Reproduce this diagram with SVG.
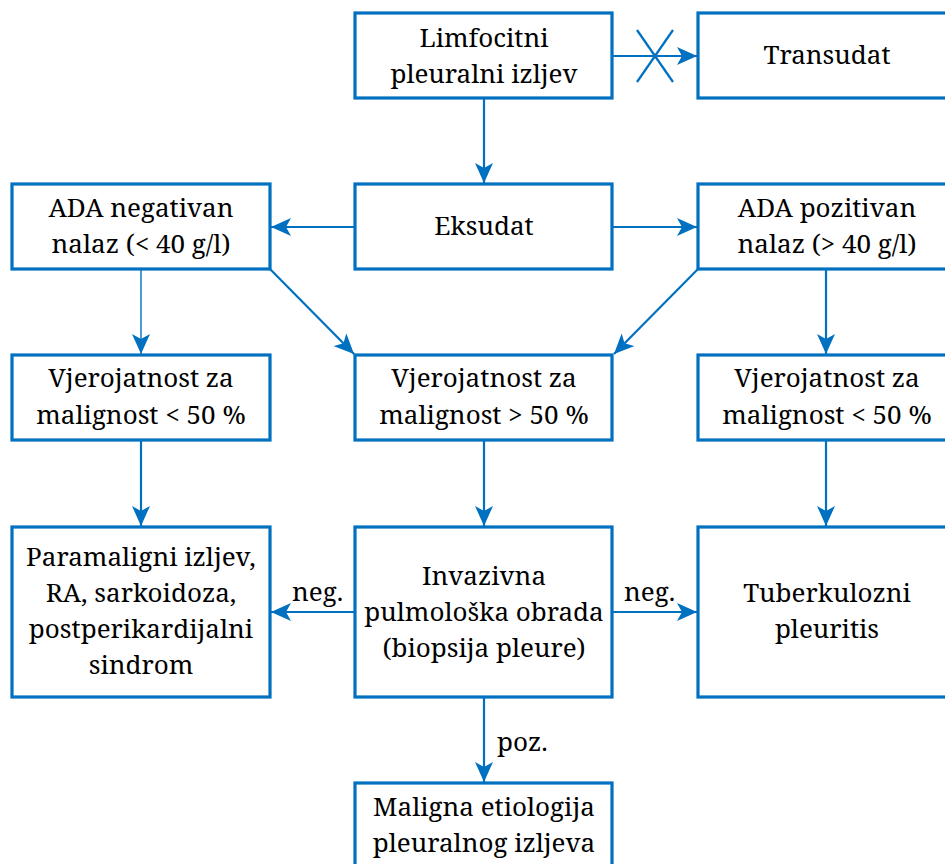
<svg xmlns="http://www.w3.org/2000/svg" width="945" height="864" viewBox="0 0 945 864">
<style>
.box{fill:#fff;stroke:#0070C0;stroke-width:3.2}
.c{fill:none;stroke:#0070C0;stroke-width:2.2}
text{font-family:'Noto Serif','Liberation Serif','DejaVu Serif',serif;font-size:26px;fill:#000}
.t{text-anchor:middle}
</style>
<defs>
<marker id="a" markerUnits="userSpaceOnUse" markerWidth="20" markerHeight="18" refX="20" refY="9" orient="auto">
<path d="M0,0 L20,9 L0,18 L5,9 Z" fill="#0070C0"/>
</marker>
</defs>
<g id="connectors">
<line class="c" x1="612" y1="56" x2="697" y2="56" marker-end="url(#a)"/>
<line class="c" x1="637" y1="30" x2="673" y2="82"/>
<line class="c" x1="673" y1="30" x2="637" y2="82"/>
<line class="c" x1="484" y1="98" x2="484" y2="183" marker-end="url(#a)"/>
<line class="c" x1="355" y1="227" x2="271" y2="227" marker-end="url(#a)"/>
<line class="c" x1="612" y1="227" x2="697" y2="227" marker-end="url(#a)"/>
<line class="c" x1="141" y1="269" x2="141" y2="354" marker-end="url(#a)" style="stroke-width:1.4"/>
<line class="c" x1="270" y1="269" x2="354" y2="354" marker-end="url(#a)"/>
<line class="c" x1="698" y1="269" x2="614" y2="354" marker-end="url(#a)"/>
<line class="c" x1="826" y1="269" x2="826" y2="354" marker-end="url(#a)"/>
<line class="c" x1="141" y1="440" x2="141" y2="526" marker-end="url(#a)"/>
<line class="c" x1="484" y1="440" x2="484" y2="526" marker-end="url(#a)"/>
<line class="c" x1="826" y1="440" x2="826" y2="526" marker-end="url(#a)"/>
<line class="c" x1="355" y1="612" x2="271" y2="612" marker-end="url(#a)"/>
<line class="c" x1="612" y1="612" x2="697" y2="612" marker-end="url(#a)"/>
<line class="c" x1="484" y1="697" x2="484" y2="782" marker-end="url(#a)"/>
<text x="292" y="601">neg.</text>
<text x="624" y="601">neg.</text>
<text x="497" y="751">poz.</text>
</g>
<g id="n1"><rect class="box" x="355" y="13" width="257" height="85"/><text class="t" x="484" y="47">Limfocitni</text><text class="t" x="484" y="83">pleuralni izljev</text></g>
<g id="n2"><rect class="box" x="698" y="13" width="258" height="85"/><text class="t" x="827" y="64">Transudat</text></g>
<g id="n3"><rect class="box" x="355" y="184" width="257" height="85"/><text class="t" x="484" y="235">Eksudat</text></g>
<g id="n4"><rect class="box" x="12" y="184" width="258" height="85"/><text class="t" x="141" y="217">ADA negativan</text><text class="t" x="141" y="253">nalaz (&lt; 40 g/l)</text></g>
<g id="n5"><rect class="box" x="698" y="184" width="258" height="85"/><text class="t" x="827" y="217">ADA pozitivan</text><text class="t" x="827" y="253">nalaz (&gt; 40 g/l)</text></g>
<g id="n6"><rect class="box" x="12" y="355" width="258" height="85"/><text class="t" x="141" y="387">Vjerojatnost za</text><text class="t" x="141" y="424">malignost &lt; 50 %</text></g>
<g id="n7"><rect class="box" x="355" y="355" width="257" height="85"/><text class="t" x="484" y="387">Vjerojatnost za</text><text class="t" x="484" y="424">malignost &gt; 50 %</text></g>
<g id="n8"><rect class="box" x="698" y="355" width="258" height="85"/><text class="t" x="827" y="387">Vjerojatnost za</text><text class="t" x="827" y="424">malignost &lt; 50 %</text></g>
<g id="n9"><rect class="box" x="12" y="527" width="258" height="170"/><text class="t" x="141" y="566">Paramaligni izljev,</text><text class="t" x="141" y="602">RA, sarkoidoza,</text><text class="t" x="141" y="638">postperikardijalni</text><text class="t" x="141" y="674">sindrom</text></g>
<g id="n10"><rect class="box" x="355" y="527" width="257" height="170"/><text class="t" x="484" y="585">Invazivna</text><text class="t" x="484" y="621">pulmološka obrada</text><text class="t" x="484" y="657">(biopsija pleure)</text></g>
<g id="n11"><rect class="box" x="698" y="527" width="258" height="170"/><text class="t" x="827" y="602">Tuberkulozni</text><text class="t" x="827" y="638">pleuritis</text></g>
<g id="n12"><rect class="box" x="355" y="783" width="257" height="90"/><text class="t" x="484" y="816">Maligna etiologija</text><text class="t" x="484" y="852">pleuralnog izljeva</text></g>
</svg>
